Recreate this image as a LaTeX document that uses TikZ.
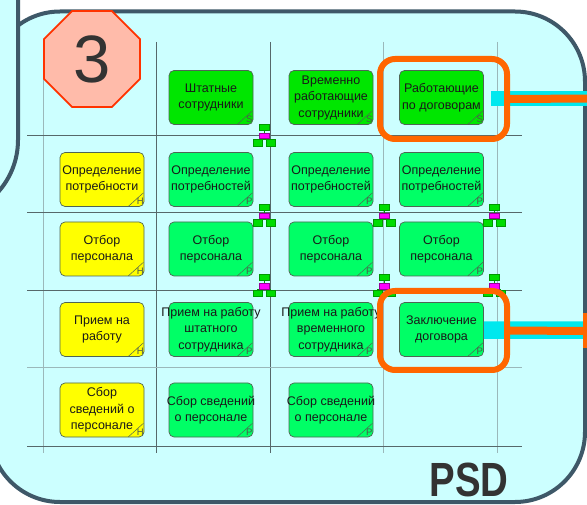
\documentclass[tikz,border=0pt]{standalone}
\usepackage{fontspec}
\setmainfont{Liberation Sans}
\usetikzlibrary{shapes.geometric}
\definecolor{bgcyan}{HTML}{CCFFFF}
\definecolor{panelline}{HTML}{3E5868}
\definecolor{griddark}{HTML}{56686A}
\definecolor{gridlight}{HTML}{9BB8BA}
\definecolor{boxline}{HTML}{4F6454}
\definecolor{gtop}{HTML}{00E600}
\definecolor{gmid}{HTML}{00FF66}
\definecolor{ylw}{HTML}{FFFF00}
\definecolor{octfill}{HTML}{FFBBAA}
\definecolor{octline}{HTML}{FF3300}
\definecolor{darktext}{HTML}{333333}
\definecolor{orng}{HTML}{FF6600}
\definecolor{cyanbar}{HTML}{00E8EE}
\definecolor{icgreen}{HTML}{00DD00}
\definecolor{icgline}{HTML}{009900}
\definecolor{icmag}{HTML}{FF00FF}
\definecolor{icmline}{HTML}{990099}
\definecolor{marktext}{HTML}{4A5A4A}
\tikzset{
  panel/.style={fill=bgcyan, draw=panelline, line width=4pt},
  gd/.style={draw=griddark, line width=0.8pt},
  gl/.style={draw=gridlight, line width=1pt},
  box/.style={rectangle, rounded corners=5pt, minimum width=84pt, minimum height=54pt, draw=boxline, line width=0.7pt, inner sep=0pt},
  boxtext/.style={align=center, font=\fontsize{12.5}{16.5}\selectfont, text=black!90, inner sep=0pt},
  marker/.style={draw=boxline, line width=0.5pt},
  markertext/.style={font=\fontsize{9.5}{10}\selectfont, text=marktext, inner sep=0pt},
  oframe/.style={rectangle, draw=orng, line width=6pt, rounded corners=15pt, minimum width=127pt, inner sep=0pt},
  oline/.style={draw=orng, line width=8pt},
  conn/.pic={
    \draw[icgline, line width=0.5pt] (0,-5.5) -- (0,-2.5) (0,2.5) -- (0,3.5) (-6.5,3.5) -- (6.5,3.5) (-6.5,3.5) -- (-6.5,4) (6.5,3.5) -- (6.5,4);
    \filldraw[fill=icgreen, draw=icgline, line width=0.5pt] (-5,-11.5) rectangle (5,-5.5);
    \filldraw[fill=icmag, draw=icmline, line width=0.5pt] (-5,-2.5) rectangle (5,2.8);
    \filldraw[fill=icgreen, draw=icgline, line width=0.5pt] (-11,4) rectangle (-2,10.5);
    \filldraw[fill=icgreen, draw=icgline, line width=0.5pt] (2,4) rectangle (11,10.5);
  }
}
\newcommand\pbox[6]{%
  \node[box, fill=#4] (#1) at (#2,#3) {};
  \node[boxtext] (#1t) at (#1.center) {#5};
  \draw[marker] ([shift={(-16pt,0.5pt)}]#1.south east) -- ([shift={(-1pt,14pt)}]#1.south east);
  \node[markertext] (#1m) at ([shift={(-4pt,5.5pt)}]#1.south east) {#6};
}
\begin{document}
\begin{tikzpicture}[x=1pt,y=-1pt]
\useasboundingbox (0,0) rectangle (587,505);
\clip (0,0) rectangle (587,505);
\fill[white] (0,0) rectangle (587,505);
% panels
\draw[panel, rounded corners=70pt] (-10,11.5) -- (585,11.5) -- (585,502) -- (-10,502) -- cycle;
\draw[panel, rounded corners=78pt] (-200,-100) -- (18,-100) -- (18,218) -- (-200,218) -- cycle;
% grid
\draw[gl] (43,42) -- (43,453);
\draw[gd] (156,42) -- (156,453);
\draw[gd] (270,42) -- (270,453);
\draw[gl] (383,42) -- (383,453);
\draw[gl] (497,42) -- (497,453);
\draw[gd] (27,135) -- (522,135);
\draw[gd] (27,212) -- (522,212);
\draw[gd] (27,290) -- (522,290);
\draw[gl] (27,368) -- (522,368);
\draw[gd] (27,446) -- (522,446);
% octagon
\node[regular polygon, regular polygon sides=8, minimum size=104pt, inner sep=0pt, fill=octfill, draw=octline, line width=1.8pt] (oct) at (92,59) {};
\node[font=\fontsize{67}{67}\selectfont, text=darktext, inner sep=0pt] (num) at (92.5,59) {3};
% row 0
\pbox{b01}{211}{97.5}{gtop}{Штатные\\сотрудники}{S}
\pbox{b02}{331}{97.5}{gtop}{Временно\\работающие\\сотрудники}{S}
\pbox{b03}{441.5}{97.5}{gtop}{Работающие\\по договорам}{S}
% row 1
\pbox{b10}{102}{179.5}{ylw}{Определение\\потребности}{H}
\pbox{b11}{211}{179.5}{gmid}{Определение\\потребностей}{P}
\pbox{b12}{331}{179.5}{gmid}{Определение\\потребностей}{P}
\pbox{b13}{441.5}{179.5}{gmid}{Определение\\потребностей}{P}
% row 2
\pbox{b20}{102}{249}{ylw}{Отбор\\персонала}{H}
\pbox{b21}{211}{249}{gmid}{Отбор\\персонала}{P}
\pbox{b22}{331}{249}{gmid}{Отбор\\персонала}{P}
\pbox{b23}{441.5}{249}{gmid}{Отбор\\персонала}{P}
% row 3
\pbox{b30}{102}{329.5}{ylw}{Прием на\\работу}{H}
\pbox{b31}{211}{329.5}{gmid}{Прием на работу\\штатного\\сотрудника}{P}
\pbox{b32}{331}{329.5}{gmid}{Прием на работу\\временного\\сотрудника}{P}
\pbox{b33}{441.5}{329.5}{gmid}{Заключение\\договора}{P}
% row 4
\pbox{b40}{102}{410}{ylw}{Сбор\\сведений о\\персонале}{H}
\pbox{b41}{211}{410}{gmid}{Сбор сведений\\о персонале}{P}
\pbox{b42}{331}{410}{gmid}{Сбор сведений\\о персонале}{P}
% connector icons
\pic at (264,135.5) {conn};
\pic at (264,215.5) {conn};
\pic at (264,286) {conn};
\pic at (384,215.5) {conn};
\pic at (384,286) {conn};
\pic at (494,215.5) {conn};
\pic at (494,286) {conn};
% cyan bars
\fill[cyanbar] (b03.east) ++(7,-6.5) rectangle (590,106);
\fill[cyanbar] (b33.east) rectangle (590,339) (b33.east) ++(0,-8) rectangle (590,331);
% orange frames
\node[oframe, minimum height=80pt] (of1) at (443.5,99) {};
\node[oframe, minimum height=79pt] (of2) at (443.5,330.5) {};
\coordinate (e1) at (592,98.5);
\coordinate (e2) at (584,331);
\draw[oline] (of1.east) -- (e1);
\draw[oline] (of2.east) -- (e2);
\node[rectangle, fill=orng, minimum width=5pt, minimum height=35pt, inner sep=0pt] (tick) at (585.5,330.5) {};
% PSD
\node[font=\bfseries\fontsize{48}{48}\selectfont, text=darktext, inner sep=0pt, xscale=0.8] (psd) at (469,479.5) {PSD};
\end{tikzpicture}
\end{document}
